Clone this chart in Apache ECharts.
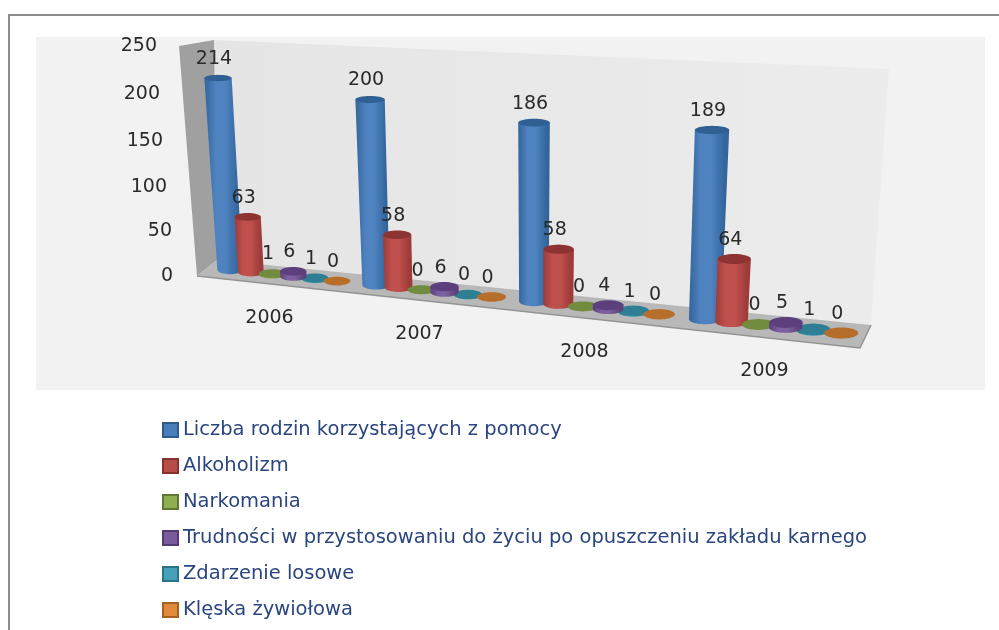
<!DOCTYPE html>
<html><head><meta charset="utf-8">
<style>html,body{margin:0;padding:0;background:#fff}#c{width:999px;height:630px}</style>
<script src="https://cdn.jsdelivr.net/npm/echarts@6/dist/echarts.min.js"></script>
</head><body><div id="c"></div>
<script>
const categories = ['2006','2007','2008','2009'];
const seriesNames = ['Liczba rodzin korzystających z pomocy','Alkoholizm','Narkomania','Trudności w przystosowaniu do życiu po opuszczeniu zakładu karnego','Zdarzenie losowe','Klęska żywiołowa'];
const families = [214,200,186,189];
const alcoholism = [63,58,58,64];
const drugs = [1,0,0,0];
const prison = [6,6,4,5];
const accident = [1,0,1,1];
const disaster = [0,0,0,0];
const valueTicks = [0,50,100,150,200,250];

const seriesValues = [families,alcoholism,drugs,prison,accident,disaster];
const palette = [
 {edge:'#33659c',mid:'#4f83c0',top:'#2f5f93',legend:'#4a7ebb',border:'#2f5a8c'},
 {edge:'#9c3b39',mid:'#c0504d',top:'#8d3432',legend:'#b84c49',border:'#873230'},
 {edge:'#6b8438',mid:'#8aa64c',top:'#718b3f',legend:'#8fae52',border:'#5f7833'},
 {edge:'#5b4079',mid:'#7d60a0',top:'#5d3f7e',legend:'#7a5c9c',border:'#553a73'},
 {edge:'#2a7a90',mid:'#3c9ab4',top:'#2e7f94',legend:'#46a0b8',border:'#2a7286'},
 {edge:'#b2691f',mid:'#d98332',top:'#b86e2b',legend:'#e08a3c',border:'#a5621f'}
];
const drawOrder = [1,2,3,8,4,5];

// Perspective view: four calibration pairs [category position, value] -> screen point
const SERIES_STEP = 0.148;
const view = [
 {cat:0,k:0,val:0,  sx:230,sy:270},
 {cat:3,k:0,val:0,  sx:705,sy:319},
 {cat:0,k:0,val:214,sx:218,sy:78},
 {cat:3,k:0,val:189,sx:712,sy:130}
];
function solve(A,b){
  const n=b.length, M=A.map((r,i)=>r.concat(b[i]));
  for(let i=0;i<n;i++){
    let p=i; for(let r=i+1;r<n;r++) if(Math.abs(M[r][i])>Math.abs(M[p][i])) p=r;
    [M[i],M[p]]=[M[p],M[i]];
    for(let r=0;r<n;r++){ if(r===i) continue; const f=M[r][i]/M[i][i]; for(let c=i;c<=n;c++) M[r][c]-=f*M[i][c]; }
  }
  return M.map((r,i)=>r[n]/r[i]);
}
let H=null;
function logical(api,cat,val,k){
  const p=api.coord([cat,val]), bw=api.size([1,0])[0];
  return [p[0]+(k-2.5)*SERIES_STEP*bw,p[1]];
}
function ensureH(api){
  if(H) return;
  const A=[],b=[];
  view.forEach(v=>{
    const [x,y]=logical(api,v.cat,v.val,v.k);
    A.push([x,y,1,0,0,0,-x*v.sx,-y*v.sx]); b.push(v.sx);
    A.push([0,0,0,x,y,1,-x*v.sy,-y*v.sy]); b.push(v.sy);
  });
  H=solve(A,b);
}
function project(p){
  const w=H[6]*p[0]+H[7]*p[1]+1;
  return [(H[0]*p[0]+H[1]*p[1]+H[2])/w,(H[3]*p[0]+H[4]*p[1]+H[5])/w];
}
function arc(c,hw,hh,from,to,n){
  const out=[];
  for(let i=0;i<=n;i++){const a=from+(to-from)*i/n; out.push([c[0]+hw*Math.cos(a),c[1]+hh*Math.sin(a)]);}
  return out;
}
function makeRender(k){
  const col=palette[k];
  return function(params,api){
    ensureH(api);
    const cat=api.value(0), val=api.value(1);
    const bw=api.size([1,0])[0];
    const L0=logical(api,cat,0,k), L1=logical(api,cat,val,k);
    const B=project(L0), T=project(L1);
    const d=0.09*bw;
    const hwBase=(project([L0[0]+d,L0[1]])[0]-project([L0[0]-d,L0[1]])[0])/2;
    const hwTop=hwBase*(1+0.08*val/214);
    const hhBase=hwBase*0.33, hhTop=hwTop*(0.33-0.1*val/214);
    const kids=[];
    const z=drawOrder[k];
    if(val>0){
      const pts=[[T[0]-hwTop,T[1]],[T[0]+hwTop,T[1]]].concat(arc(B,hwBase,hhBase,0,Math.PI,24));
      kids.push({type:'polygon',shape:{points:pts},z2:z,style:{fill:{type:'linear',x:0,y:0,x2:1,y2:0,colorStops:[
        {offset:0,color:col.edge},{offset:0.3,color:col.mid},{offset:0.55,color:col.mid},{offset:0.9,color:col.edge},{offset:1,color:col.edge}]}}});
    }
    kids.push({type:'polygon',shape:{points:arc(T,hwTop,hhTop,0,2*Math.PI,36)},z2:z,style:{fill:col.top}});
    kids.push({type:'text',z2:50,style:{text:String(val),x:T[0]-4,y:T[1]-19,align:'center',verticalAlign:'middle',
      font:'19px "DejaVu Sans"',fill:'#2a2a2a'}});
    return {type:'group',children:kids};
  };
}

// Per-tick label offsets that follow the tilted wall and floor
const yPad = {0:14,50:15,100:20,150:24,200:27,250:30};
const yDown = {0:0,50:1,100:3,150:3,200:2,250:0};
const xPad = {'2006':[33,0],'2007':[49,30],'2008':[67,30],'2009':[86,0]};
const labelFont={fontFamily:'DejaVu Sans',fontSize:19,color:'#2a2a2a'};
const yRich={}, xRich={};
valueTicks.forEach(t=>{yRich['t'+t]=Object.assign({padding:[2*yDown[t],yPad[t],0,0],align:'right'},labelFont);});
categories.forEach(c=>{xRich['c'+c]=Object.assign({padding:[xPad[c][0],xPad[c][1],0,0]},labelFont);});

const chart=echarts.init(document.getElementById('c'),null,{renderer:'canvas'});
chart.setOption({
  animation:false,
  backgroundColor:'#ffffff',
  grid:{left:187,top:46,width:660,height:230},
  xAxis:{type:'category',data:categories,axisLine:{show:false},axisTick:{show:false},splitLine:{show:false},
    axisLabel:{margin:0,interval:0,hideOverlap:false,formatter:v=>'{c'+v+'|'+v+'}',rich:xRich}},
  yAxis:{type:'value',min:0,max:250,interval:50,axisLine:{show:false},axisTick:{show:false},splitLine:{show:false},
    axisLabel:{margin:0,formatter:v=>'{t'+v+'|'+v+'}',rich:yRich}},
  legend:{orient:'vertical',left:162,top:420,padding:0,itemWidth:15,itemHeight:14,itemGap:16,itemSpacing:4,icon:'rect',selectedMode:false,
    data:seriesNames,textStyle:{fontFamily:'DejaVu Sans',fontSize:19.5,color:'#2b4580'}},
  graphic:[
    {type:'rect',z:-10,shape:{x:36,y:37,width:949,height:353},style:{fill:'#f2f2f2'}},
    {type:'rect',z:-9,shape:{x:8,y:14,width:991,height:2},style:{fill:'#8c8c8c'}},
    {type:'rect',z:-9,shape:{x:8,y:14,width:2,height:616},style:{fill:'#8c8c8c'}},
    {type:'polygon',z:-8,shape:{points:[[214,40],[889,69],[871,325],[217,260]]},style:{fill:{type:'linear',x:0,y:0,x2:1,y2:0,colorStops:[{offset:0,color:'#e5e5e5'},{offset:1,color:'#ececec'}]}}},
    {type:'polygon',z:-7,shape:{points:[[179,46],[214,40],[217,260],[197,276]]},style:{fill:'#a0a0a0'}},
    {type:'polygon',z:-7,shape:{points:[[197,276],[217,260],[871,325],[860,348]]},style:{fill:'#b8b8b8'}},
    {type:'polyline',z:-6,shape:{points:[[197,276],[860,348],[871,325]]},style:{fill:'none',stroke:'#939393',lineWidth:1.5}}
  ],
  series:seriesNames.map((name,k)=>({
    type:'custom',name,coordinateSystem:'cartesian2d',clip:false,
    itemStyle:{color:palette[k].legend,borderColor:palette[k].border,borderWidth:1.5},
    encode:{x:0,y:1},
    data:seriesValues[k].map((v,i)=>[i,v]),
    renderItem:makeRender(k)
  }))
});
</script></body></html>
